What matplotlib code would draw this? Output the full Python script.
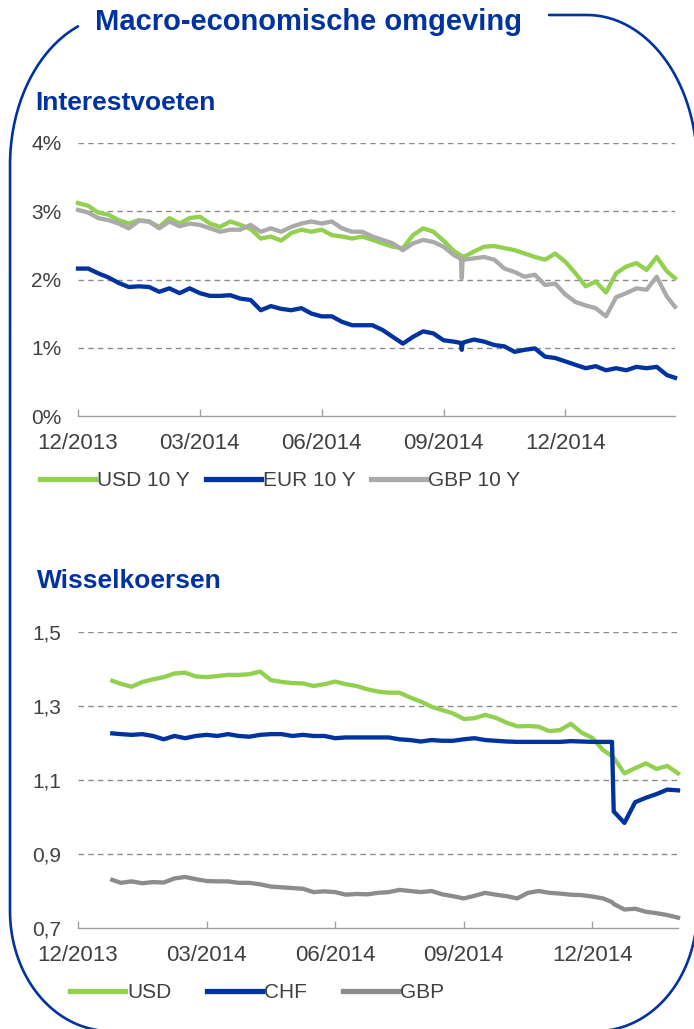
import numpy as np
import matplotlib
matplotlib.use("Agg")
import matplotlib.pyplot as plt
from matplotlib.lines import Line2D

plt.rcParams['font.family'] = ['Liberation Sans', 'DejaVu Sans']

# ---------------- data ----------------
# months since 12/2013
rate_months = [0, 0.25, 0.5, 0.75, 1, 1.25, 1.5, 1.75, 2, 2.25, 2.5, 2.75, 3, 3.25, 3.5, 3.75,
               4, 4.25, 4.5, 4.75, 5, 5.25, 5.5, 5.75, 6, 6.25, 6.5, 6.75, 7, 7.25, 7.5, 7.75,
               8, 8.25, 8.5, 8.75, 9, 9.25, 9.43, 9.45, 9.47, 9.5, 9.75, 10, 10.25, 10.5, 10.75,
               11, 11.25, 11.5, 11.75, 12, 12.25, 12.5, 12.75, 13, 13.25, 13.5, 13.75, 14, 14.25,
               14.5, 14.7]
usd_10y = [3.12, 3.08, 2.98, 2.95, 2.87, 2.82, 2.87, 2.85, 2.77, 2.90, 2.82, 2.90, 2.92, 2.82, 2.77, 2.85,
           2.80, 2.74, 2.60, 2.63, 2.57, 2.68, 2.73, 2.70, 2.73, 2.65, 2.63, 2.60, 2.63, 2.58, 2.53, 2.48,
           2.46, 2.65, 2.75, 2.70, 2.57, 2.42, 2.35, 2.34, 2.34, 2.33, 2.41, 2.48, 2.49, 2.46, 2.43,
           2.38, 2.33, 2.29, 2.38, 2.26, 2.09, 1.90, 1.97, 1.81, 2.09, 2.19, 2.24, 2.14, 2.33,
           2.12, 2.02]
eur_10y = [2.16, 2.16, 2.09, 2.03, 1.95, 1.89, 1.90, 1.89, 1.82, 1.87, 1.80, 1.87, 1.80, 1.76, 1.76, 1.77,
           1.72, 1.70, 1.55, 1.61, 1.57, 1.55, 1.58, 1.50, 1.46, 1.46, 1.38, 1.33, 1.33, 1.33, 1.26, 1.16,
           1.06, 1.16, 1.24, 1.21, 1.11, 1.09, 1.07, 0.97, 1.07, 1.08, 1.12, 1.09, 1.04, 1.02, 0.94,
           0.97, 0.99, 0.87, 0.85, 0.80, 0.75, 0.70, 0.73, 0.67, 0.70, 0.67, 0.72, 0.70, 0.72,
           0.60, 0.56]
gbp_10y = [3.02, 2.98, 2.90, 2.87, 2.82, 2.75, 2.86, 2.85, 2.75, 2.85, 2.78, 2.82, 2.80, 2.75, 2.70, 2.73,
           2.73, 2.80, 2.70, 2.75, 2.70, 2.77, 2.82, 2.85, 2.82, 2.85, 2.75, 2.70, 2.70, 2.63, 2.58, 2.53,
           2.43, 2.53, 2.58, 2.55, 2.48, 2.36, 2.30, 2.02, 2.29, 2.29, 2.31, 2.33, 2.29, 2.16, 2.11,
           2.04, 2.07, 1.92, 1.94, 1.78, 1.67, 1.62, 1.58, 1.46, 1.74, 1.80, 1.87, 1.85, 2.04,
           1.75, 1.60]

fx_months = [0.8, 1, 1.25, 1.5, 1.75, 2, 2.25, 2.5, 2.75, 3, 3.25, 3.5, 3.75, 4, 4.25, 4.5, 4.75,
             5, 5.25, 5.5, 5.75, 6, 6.25, 6.5, 6.75, 7, 7.25, 7.5, 7.75, 8, 8.25, 8.5, 8.75,
             9, 9.25, 9.5, 9.75, 10, 10.25, 10.5, 10.75, 11, 11.25, 11.5, 11.75, 12, 12.25,
             12.46, 12.5, 12.75, 13, 13.25, 13.5, 13.75, 14]
fx_usd = [1.368, 1.360, 1.352, 1.365, 1.372, 1.378, 1.388, 1.390, 1.380, 1.378, 1.381, 1.384, 1.384,
          1.386, 1.393, 1.370, 1.365, 1.362, 1.361, 1.354, 1.359, 1.366, 1.359, 1.354, 1.345, 1.339,
          1.336, 1.336, 1.323, 1.312, 1.298, 1.289, 1.280, 1.265, 1.267, 1.276, 1.268, 1.255, 1.245,
          1.246, 1.244, 1.232, 1.235, 1.252, 1.228, 1.214, 1.181, 1.165, 1.160, 1.118, 1.132, 1.145,
          1.130, 1.138, 1.118]
fx_chf = [1.226, 1.224, 1.222, 1.224, 1.219, 1.210, 1.219, 1.213, 1.219, 1.222, 1.219, 1.224, 1.219,
          1.217, 1.222, 1.224, 1.224, 1.219, 1.222, 1.219, 1.219, 1.213, 1.215, 1.215, 1.215, 1.215,
          1.215, 1.210, 1.208, 1.204, 1.208, 1.206, 1.206, 1.210, 1.213, 1.208, 1.206, 1.204, 1.203,
          1.203, 1.203, 1.203, 1.203, 1.205, 1.204, 1.203, 1.203, 1.203, 1.015, 0.984, 1.040, 1.052,
          1.062, 1.074, 1.072]
fx_gbp = [0.830, 0.822, 0.826, 0.821, 0.824, 0.823, 0.834, 0.838, 0.832, 0.827, 0.826, 0.826, 0.822,
          0.822, 0.818, 0.812, 0.810, 0.808, 0.806, 0.797, 0.799, 0.797, 0.790, 0.792, 0.791, 0.795,
          0.797, 0.803, 0.800, 0.797, 0.800, 0.791, 0.786, 0.780, 0.787, 0.795, 0.790, 0.786, 0.780,
          0.795, 0.800, 0.795, 0.793, 0.790, 0.789, 0.785, 0.780, 0.770, 0.765, 0.750, 0.752, 0.744,
          0.740, 0.735, 0.728]

tick_months = [0, 3, 6, 9, 12]
tick_labels = ["12/2013", "03/2014", "06/2014", "09/2014", "12/2014"]
rate_ticks = [0, 1, 2, 3, 4]
rate_labels = ["0%", "1%", "2%", "3%", "4%"]
fx_ticks = [0.7, 0.9, 1.1, 1.3, 1.5]
fx_labels = ["0,7", "0,9", "1,1", "1,3", "1,5"]

# ---------------- style ----------------
W, H = 694, 1029
BLUE = "#0033A0"
GREEN = "#92D050"
GRAY_T = "#AAAAAA"
GRAY_B = "#8C8C8C"
TXT = "#404040"
LW = 3.1

fig = plt.figure(figsize=(W / 100, H / 100), dpi=100)
fig.patch.set_facecolor("white")


def fx_(px):
    return px / W


def fy_(py):
    return 1 - py / H


# background axes for frame in pixel coordinates
bg = fig.add_axes([0, 0, 1, 1], zorder=-1)
bg.set_xlim(0, W)
bg.set_ylim(H, 0)
bg.axis("off")

x0, x1, y0, y1 = 10, 697, 15, 1031
rxt, ryt = 110, 150
rxb, ryb = 100, 120
pts = []
pts += [(549, y0), (x1 - rxt, y0)]
t = np.linspace(np.pi / 2, 0, 40)
cx, cy = x1 - rxt, y0 + ryt
pts += list(zip(cx + rxt * np.cos(t), cy - ryt * np.sin(t)))
cx, cy = x1 - rxb, y1 - ryb
t = np.linspace(0, np.pi / 2, 40)
pts += list(zip(cx + rxb * np.cos(t), cy + ryb * np.sin(t)))
cx, cy = x0 + rxb, y1 - ryb
t = np.linspace(np.pi / 2, np.pi, 40)
pts += list(zip(cx + rxb * np.cos(t), cy + ryb * np.sin(t)))
cx, cy = x0 + rxt, y0 + ryt
tend = np.arccos((cx - 78) / rxt)
t = np.linspace(0, tend, 40)
pts += list(zip(cx - rxt * np.cos(t), cy - ryt * np.sin(t)))
pts = np.array(pts)
bg.plot(pts[:, 0], pts[:, 1], color=BLUE, lw=1.9, solid_capstyle="round")

# titles
fig.text(fx_(95), fy_(22), "Macro-economische omgeving", color=BLUE, fontsize=21,
         fontweight="bold", ha="left", va="center")
fig.text(fx_(35), fy_(103), "Interestvoeten", color=BLUE, fontsize=19,
         fontweight="bold", ha="left", va="center")
fig.text(fx_(37), fy_(581), "Wisselkoersen", color=BLUE, fontsize=19,
         fontweight="bold", ha="left", va="center")


def style_axes(ax, yticks, ylabels, xmax):
    ax.set_xlim(0, xmax)
    ax.set_ylim(yticks[0], yticks[-1])
    ax.set_yticks(yticks)
    ax.set_yticklabels(ylabels)
    ax.set_xticks(tick_months)
    ax.set_xticklabels(tick_labels)
    for s in ["left", "right", "top"]:
        ax.spines[s].set_visible(False)
    ax.spines["bottom"].set_color("#A0A0A0")
    ax.spines["bottom"].set_linewidth(1.0)
    ax.tick_params(axis="y", length=0, pad=12, labelsize=15, labelcolor=TXT)
    ax.tick_params(axis="x", direction="in", length=5, width=1, color="#A0A0A0",
                   pad=12, labelsize=16, labelcolor=TXT)
    for yv in yticks[1:]:
        ax.axhline(yv, color="#8C8C8C", lw=1.0, ls=(0, (4, 3)), zorder=1)
    ax.set_facecolor("none")


# ---------- top chart ----------
ax1 = fig.add_axes([fx_(78), fy_(416), (675 - 78) / W, (416 - 143) / H])
style_axes(ax1, rate_ticks, rate_labels, 14.7)
ax1.plot(rate_months, usd_10y, color=GREEN, lw=LW, zorder=3, clip_on=False)
ax1.plot(rate_months, eur_10y, color=BLUE, lw=LW, zorder=3, clip_on=False)
ax1.plot(rate_months, gbp_10y, color=GRAY_T, lw=LW, zorder=3, clip_on=False)
hl = [Line2D([], [], color=c, lw=3.8) for c in (GREEN, BLUE, GRAY_T)]
leg1 = fig.legend(hl, ["USD 10 Y", "EUR 10 Y", "GBP 10 Y"], loc="center left",
                  bbox_to_anchor=(fx_(40), fy_(481)), ncol=3, frameon=False,
                  fontsize=15, handlelength=2.65, handletextpad=0.1, columnspacing=0.75,
                  borderpad=0, borderaxespad=0)
for t_ in leg1.get_texts():
    t_.set_color(TXT)

# ---------- bottom chart ----------
ax2 = fig.add_axes([fx_(78), fy_(928), (678 - 78) / W, (928 - 632) / H])
style_axes(ax2, fx_ticks, fx_labels, 14.0)
ax2.plot(fx_months, fx_usd, color=GREEN, lw=LW, zorder=3, clip_on=False)
ax2.plot(fx_months, fx_chf, color=BLUE, lw=LW, zorder=3, clip_on=False)
ax2.plot(fx_months, fx_gbp, color=GRAY_B, lw=LW, zorder=3, clip_on=False)
hl2 = [Line2D([], [], color=c, lw=3.8) for c in (GREEN, BLUE, GRAY_B)]
leg2 = fig.legend(hl2, ["USD", "CHF", "GBP"], loc="center left",
                  bbox_to_anchor=(fx_(70), fy_(993)), ncol=3, frameon=False,
                  fontsize=15, handlelength=2.65, handletextpad=0.1, columnspacing=1.7,
                  borderpad=0, borderaxespad=0)
for t_ in leg2.get_texts():
    t_.set_color(TXT)

fig.savefig("out.png", dpi=100, facecolor="white")
